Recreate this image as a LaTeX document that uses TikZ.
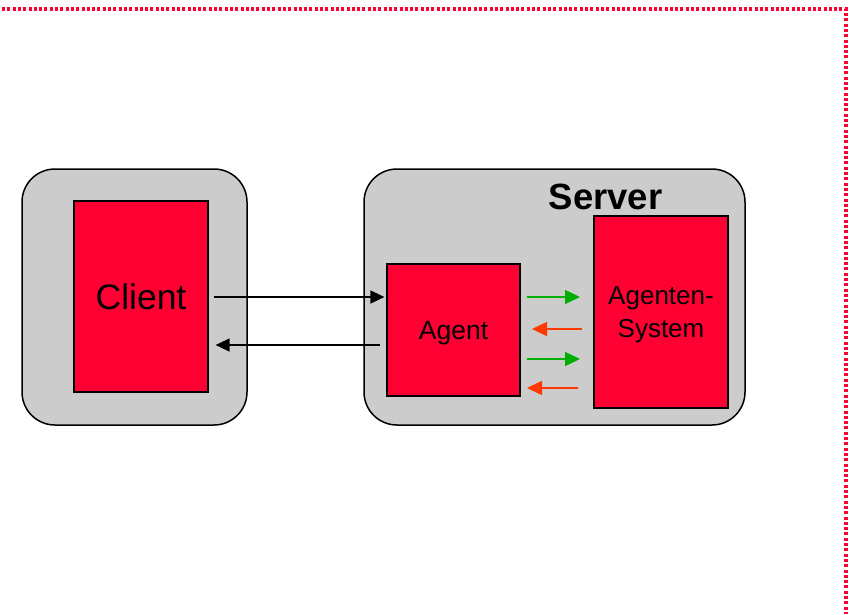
\documentclass[tikz,border=0pt]{standalone}
\usepackage{fontspec}
\setmainfont{Liberation Sans}
\usetikzlibrary{arrows.meta,calc}
\definecolor{boxred}{HTML}{FF0033}
\definecolor{panelgray}{HTML}{CCCCCC}
\definecolor{arrgreen}{HTML}{00B000}
\definecolor{arrorange}{HTML}{FF3A00}
\tikzset{
  panel/.style={draw=black,line width=1.5pt,fill=panelgray,rounded corners=33pt,inner sep=0pt},
  redbox/.style={draw=black,line width=1.2pt,fill=boxred,inner sep=0pt,align=center},
  blackarrow/.style={draw=black,line width=1.6pt,-{Triangle[length=14pt,width=13pt]}},
  greenarrow/.style={draw=arrgreen,line width=1.5pt,-{Triangle[length=15pt,width=14pt]}},
  orangearrow/.style={draw=arrorange,line width=1.5pt,-{Triangle[length=15pt,width=14pt]}},
  frameline/.style={draw=boxred,line width=4.5pt,dash pattern=on 3pt off 2.3pt}
}
\begin{document}
\begin{tikzpicture}[x=1pt,y=-1pt]
\useasboundingbox (0,0) rectangle (851,614);
% dotted frame
\coordinate (fa) at (2,9);
\coordinate (fb) at (846,9);
\coordinate (fc) at (846,614);
\draw[frameline] (fa) -- (fb) -- (fc);
% panels
\node[panel,minimum width=225pt,minimum height=256pt] (clientpanel) at (134.5,297) {};
\node[panel,minimum width=381pt,minimum height=256pt] (serverpanel) at (554.5,297) {};
\node[font=\bfseries\fontsize{36.5}{40}\selectfont] (serverlabel) at (605.5,197) {Server};
% red boxes
\node[redbox,minimum width=134pt,minimum height=191pt,font=\fontsize{35.5}{40}\selectfont] (client) at (141,296.5) {Client};
\node[redbox,minimum width=133pt,minimum height=132pt,text depth=0pt,font=\fontsize{26.5}{30}\selectfont] (agent) at (453.5,330) {Agent};
\node[redbox,minimum width=134pt,minimum height=192pt,text depth=0pt,font=\fontsize{26}{32.5}\selectfont] (system) at (661,312) {Agenten-\\System};
% client <-> agent
\coordinate (c1) at ($(client.east)+(5,0.5)$);
\coordinate (a1) at ($(agent.west |- client.east)+(-2,0.5)$);
\draw[blackarrow] (c1) -- (a1);
\coordinate (a2) at ($(agent.west)+(-6,15)$);
\coordinate (c2) at ($(client.east |- a2)+(7,0)$);
\draw[blackarrow] (a2) -- (c2);
% agent <-> system
\coordinate (g1s) at (527,297);
\coordinate (g1e) at (580,297);
\coordinate (o1s) at (582,329);
\coordinate (o1e) at (532,329);
\coordinate (g2s) at (527,359);
\coordinate (g2e) at (580,359);
\coordinate (o2s) at (578,388);
\coordinate (o2e) at (527,388);
\draw[greenarrow] (g1s) -- (g1e);
\draw[orangearrow] (o1s) -- (o1e);
\draw[greenarrow] (g2s) -- (g2e);
\draw[orangearrow] (o2s) -- (o2e);
\end{tikzpicture}
\end{document}
